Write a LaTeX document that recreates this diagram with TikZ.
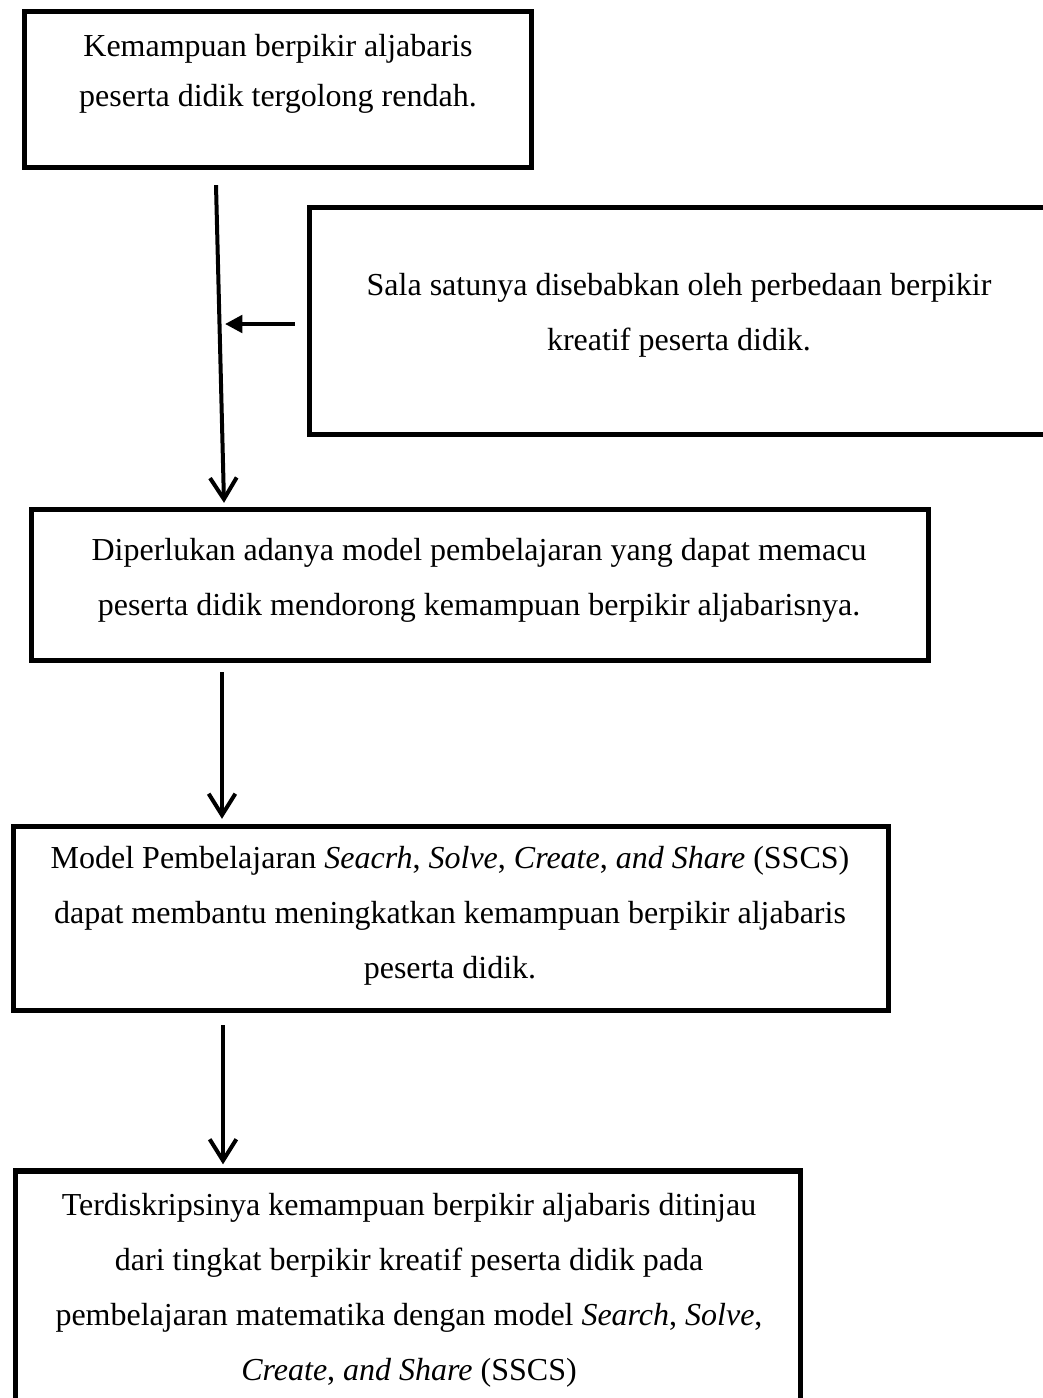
\documentclass[tikz,border=0pt]{standalone}
\usepackage{fontspec}
\setmainfont{Liberation Serif}
\usetikzlibrary{arrows.meta,calc}

\begin{document}
\begin{tikzpicture}[x=0.375pt,y=-0.375pt,
    kotak/.style={draw,line width=2pt,rectangle,inner sep=0pt},
    teks/.style={align=center,inner sep=0pt,font=\fontsize{12pt}{20.6pt}\selectfont},
    panah/.style={line width=1.5pt,-{Straight Barb[length=8pt,width=10pt]}},
    panahkiri/.style={line width=1.5pt,-{Triangle[length=6.5pt,width=6.5pt]}}]
  \useasboundingbox (0,0) rectangle (1043,1398);
  % kotak-kotak
  \node[kotak,minimum width=190.1pt,minimum height=58.5pt] (b1) at (278,89.5) {};
  \node[kotak,minimum width=277.1pt,minimum height=85.1pt] (b2) at (679,321) {};
  \node[kotak,minimum width=336.4pt,minimum height=56.6pt] (b3) at (480,585) {};
  \node[kotak,minimum width=328.1pt,minimum height=69pt] (b4) at (451,918.5) {};
  \node[kotak,minimum width=294.4pt,minimum height=93.75pt] (b5) at (408,1296) {};
  % teks
  \node[teks,font=\fontsize{12pt}{18.8pt}\selectfont] (t1) at (278,74)
    {Kemampuan berpikir aljabaris\\ peserta didik tergolong rendah.};
  \node[teks] (t2) at (679,315)
    {Sala satunya disebabkan oleh perbedaan berpikir\\ kreatif peserta didik.};
  \node[teks] (t3) at (479,580)
    {Diperlukan adanya model pembelajaran yang dapat memacu\\
     peserta didik mendorong kemampuan berpikir aljabarisnya.};
  \node[teks] (t4) at (450,916)
    {Model Pembelajaran \textit{Seacrh}, \textit{Solve}, \textit{Create}, \textit{and Share} (SSCS)\\
     dapat membantu meningkatkan kemampuan berpikir aljabaris\\
     peserta didik.};
  \node[teks] (t5) at (409,1290)
    {Terdiskripsinya kemampuan berpikir aljabaris ditinjau\\
     dari tingkat berpikir kreatif peserta didik pada\\
     pembelajaran matematika dengan model \textit{Search}, \textit{Solve},\\
     \textit{Create}, \textit{and Share} (SSCS)};
  % panah
  \coordinate (temu) at (225,324);
  \draw[panah] ($(b1.south)+(-62,15)$) -- ($(b3.north)+(-256,-4)$);
  \draw[panahkiri] ($(b2.west)+(-12,3)$) -- (temu);
  \draw[panah] ($(b3.south)+(-258,9)$) -- ($(b4.north)+(-229,-5)$);
  \draw[panah] ($(b4.south)+(-228,12)$) -- ($(b5.north)+(-185,-4)$);
\end{tikzpicture}
\end{document}
